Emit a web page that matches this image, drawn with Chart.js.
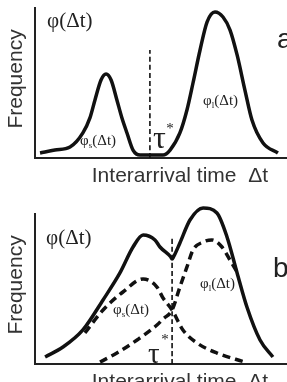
<!DOCTYPE html>
<html>
<head>
<meta charset="utf-8">
<script src="https://cdn.jsdelivr.net/npm/chart.js@4.4.0/dist/chart.umd.min.js"></script>
<style>
    html, body { margin: 0; padding: 0; background: #fff; overflow: hidden; }
    .panel { position: absolute; left: 0; width: 287px; }
    #panelA { top: 0; height: 190px; }
    #panelB { top: 190px; height: 192px; }
</style>
</head>
<body>
<div class="panel" id="panelA"><canvas id="chartA"></canvas></div>
<div class="panel" id="panelB"><canvas id="chartB"></canvas></div>
<script>
// Panel a: two separate peaks
const aTimes = [0.2, 0.79, 1.39, 1.9, 2.18, 2.38, 2.62, 2.82, 3.02, 3.25, 3.45, 3.65, 3.89, 4.17, 4.56, 5.08, 5.36, 5.75, 6.03, 6.27, 6.55, 6.83, 7.14, 7.46, 7.74, 8.02, 8.33, 8.61, 9.05, 9.64];
const aFreq  = [3.3, 5.3, 7.3, 16.7, 26.7, 38.7, 52, 56, 52, 38.7, 26.7, 16.7, 5.3, 2, 2, 2, 5.3, 16.7, 32, 50, 72, 90.7, 97.3, 94, 85.3, 68.7, 45.3, 25.3, 10, 3.3];
const aTau = 4.56;
const aTauTop = 72;

// Panel b: overlapping peaks, total + the two parts
const bTimes = [0.4, 1.11, 1.9, 2.7, 3.37, 3.89, 4.29, 4.76, 4.96, 5.38, 5.44, 5.5, 5.75, 6.15, 6.67, 7.22, 7.62, 8.02, 8.41, 8.93, 9.44];
const bFreq  = [4.7, 11.3, 22.7, 42.7, 60.7, 78, 86, 82.7, 78, 71.5, 70, 71.5, 80.7, 96, 104, 100.7, 84.7, 60.7, 38, 16, 4.7];
const bShortTimes = [1.98, 2.7, 3.49, 4.29, 4.84, 5.08, 5.44, 5.87, 6.43, 7.22, 8.33];
const bShortFreq  = [20.7, 36, 48, 56.7, 51.3, 44, 36, 22.7, 14, 7.3, 1.3];
const bLongTimes = [2.58, 3.25, 4.05, 4.84, 5.08, 5.44, 5.75, 6.03, 6.27, 6.67, 7.02, 7.42, 7.74, 8.02];
const bLongFreq  = [1.3, 7.3, 16, 26, 30, 36, 51.3, 64.7, 76, 81.3, 82.7, 78, 69.3, 61.3];
const bTau = 5.44;
const bTauTop = 84;

const SANS = '"Liberation Sans", Arial, sans-serif';
const SERIF = '"Liberation Serif", "Times New Roman", serif';

function toPoints(xs, ys) {
    return xs.map((x, i) => ({ x: x, y: ys[i] }));
}

// draw a label made of pieces (normal text + subscripts)
function drawPieces(ctx, pieces, x, y) {
    let cx = x;
    pieces.forEach(p => {
        ctx.font = p.size + 'px ' + SERIF;
        ctx.fillText(p.t, cx, y + (p.dy || 0));
        cx += ctx.measureText(p.t).width;
    });
}

function phiLabel(sub, size) {
    return [
        { t: 'φ', size: size },
        { t: sub, size: Math.round(size * 0.6), dy: size * 0.3 },
        { t: '(Δt)', size: size }
    ];
}

// plugin drawing the texts at data positions
function notesPlugin(notes) {
    return {
        id: 'notes',
        afterDatasetsDraw(chart) {
            const ctx = chart.ctx;
            const xs = chart.scales.x, ys = chart.scales.y;
            ctx.save();
            ctx.textBaseline = 'middle';
            notes.forEach(n => {
                const px = xs.getPixelForValue(n.x);
                const py = ys.getPixelForValue(n.y);
                ctx.fillStyle = n.color || '#222';
                if (n.rotate) {
                    ctx.save();
                    ctx.translate(px, py);
                    ctx.rotate(-Math.PI / 2);
                    ctx.textAlign = 'center';
                    ctx.font = n.size + 'px ' + SANS;
                    ctx.fillText(n.text, 0, 0);
                    ctx.restore();
                } else if (n.pieces) {
                    ctx.textAlign = 'left';
                    drawPieces(ctx, n.pieces, px, py);
                } else {
                    ctx.textAlign = n.align || 'left';
                    ctx.font = n.size + 'px ' + (n.serif ? SERIF : SANS);
                    ctx.fillText(n.text, px, py);
                }
            });
            ctx.restore();
        }
    };
}

function baseOptions(padding) {
    return {
        responsive: true,
        maintainAspectRatio: false,
        animation: false,
        layout: { padding: padding },
        plugins: { legend: { display: false }, tooltip: { enabled: false } },
        elements: { point: { radius: 0 } },
        scales: {
            x: {
                type: 'linear', min: 0, max: 10,
                grid: { display: false, drawTicks: false },
                ticks: { display: false },
                border: { display: true, color: '#222', width: 2 }
            },
            y: {
                type: 'linear', min: 0, max: 100,
                grid: { display: false, drawTicks: false },
                ticks: { display: false },
                border: { display: true, color: '#222', width: 2 }
            }
        }
    };
}

function curve(points, dash, width) {
    return {
        data: points,
        borderColor: '#111',
        borderWidth: width,
        borderDash: dash,
        cubicInterpolationMode: 'monotone',
        fill: false,
        clip: false
    };
}

const axisNotes = [
    { text: 'Frequency', x: -0.75, y: 52.7, size: 21, rotate: true, color: '#333' },
    { text: 'Interarrival time  Δt', x: 5.75, y: -12, size: 21, align: 'center', color: '#333' }
];

// panel a
new Chart(document.getElementById('chartA'), {
    type: 'line',
    data: {
        datasets: [
            curve(toPoints(aTimes, aFreq), [], 3.5),
            curve(toPoints([aTau, aTau], [0, aTauTop]), [5, 3], 1.6)
        ]
    },
    options: baseOptions({ left: 35, top: 8, right: 0, bottom: 32 }),
    plugins: [notesPlugin(axisNotes.concat([
        { pieces: phiLabel('', 21), x: 0.48, y: 90.7 },
        { pieces: phiLabel('s', 15), x: 1.79, y: 11.3 },
        { pieces: phiLabel('l', 15), x: 6.67, y: 38 },
        { text: 'τ', x: 4.68, y: 12, size: 32, serif: true },
        { text: '*', x: 5.36, y: 19.3, size: 15, serif: true, align: 'center' },
        { text: 'a', x: 9.6, y: 78.7, size: 28 }
    ]))]
});

// panel b
new Chart(document.getElementById('chartB'), {
    type: 'line',
    data: {
        datasets: [
            curve(toPoints(bTimes, bFreq), [], 3.5),
            curve(toPoints(bShortTimes, bShortFreq), [8, 5], 3.5),
            curve(toPoints(bLongTimes, bLongFreq), [8, 5], 3.5),
            curve(toPoints([bTau, bTau], [0, bTauTop]), [5, 3], 1.6)
        ]
    },
    options: baseOptions({ left: 35, top: 24, right: 0, bottom: 18 }),
    plugins: [notesPlugin(axisNotes.concat([
        { pieces: phiLabel('', 21), x: 0.44, y: 84 },
        { pieces: phiLabel('s', 15), x: 3.1, y: 36 },
        { pieces: phiLabel('l', 15), x: 6.55, y: 53.3 },
        { text: 'τ', x: 4.48, y: 6, size: 29, serif: true },
        { text: '*', x: 5.16, y: 16, size: 15, serif: true, align: 'center' },
        { text: 'b', x: 9.44, y: 63.3, size: 28 }
    ]))]
});
</script>
</body>
</html>
